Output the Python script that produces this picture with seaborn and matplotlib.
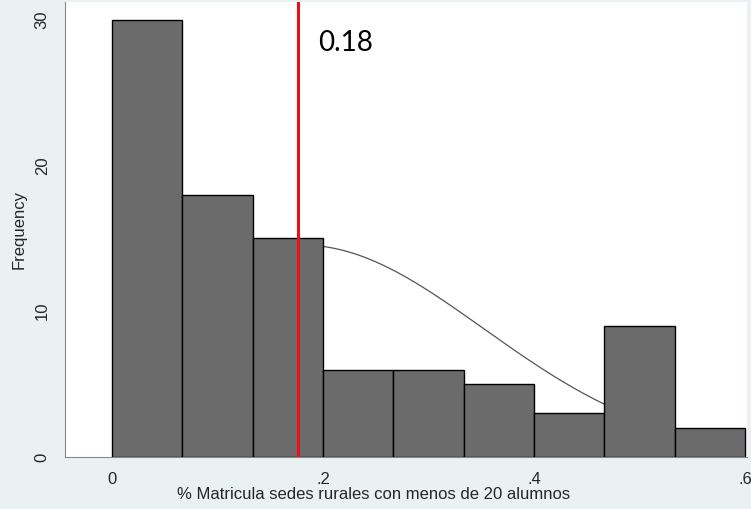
import numpy as np
import pandas as pd
import matplotlib
matplotlib.use("Agg")
import matplotlib.pyplot as plt
import seaborn as sns

# ── Data ──────────────────────────────────────────────────
bin_edges = [0.0, 0.0667, 0.1333, 0.2, 0.2667, 0.3333, 0.4, 0.4667, 0.5333, 0.6]
bin_counts = [30, 18, 15, 6, 6, 5, 3, 9, 2]
marker_value = 0.176
marker_label = "0.18"
normal_mean = 0.18
normal_sd = 0.172
x_ticks = [0, 0.2, 0.4, 0.6]
x_tick_labels = ["0", ".2", ".4", ".6"]
y_ticks = [0, 10, 20, 30]
x_label = "% Matricula sedes rurales con menos de 20 alumnos"
y_label = "Frequency"

centers = [(a + b) / 2 for a, b in zip(bin_edges[:-1], bin_edges[1:])]
df = pd.DataFrame({"x": centers, "count": bin_counts})

sns.set_style("white")
plt.rcParams["font.family"] = ["Liberation Sans", "DejaVu Sans"]

fig = plt.figure(figsize=(7.51, 5.09), dpi=100, facecolor="#e9f1f2")
ax = fig.add_axes([0.0866, 0.102, 0.9081, 0.894])
ax.set_facecolor("white")

# normal curve scaled to frequency (drawn behind the bars)
n_total = sum(bin_counts)
width = bin_edges[1] - bin_edges[0]
xs = np.linspace(bin_edges[0] + 0.006, bin_edges[-1], 300)
ys = n_total * width / (normal_sd * np.sqrt(2 * np.pi)) * np.exp(-(xs - normal_mean) ** 2 / (2 * normal_sd ** 2))
sns.lineplot(x=xs, y=ys, ax=ax, color="#555555", linewidth=0.9, zorder=1)

sns.histplot(data=df, x="x", weights="count", bins=bin_edges, ax=ax,
             color="#6b6b6b", edgecolor="black", linewidth=1.0, alpha=1.0, zorder=2)

ax.axvline(marker_value, color="#e8101a", linewidth=2.2, zorder=3)
ax.text(marker_value + 0.019, 28.4, marker_label, fontsize=20,
        family=["Lato", "DejaVu Sans"], color="black", ha="left", va="center")

ax.set_xlim(-0.0445, 0.6019)
ax.set_ylim(0, 31.2)
ax.set_xticks(x_ticks)
ax.set_xticklabels(x_tick_labels)
ax.set_yticks(y_ticks)
ax.set_yticklabels([str(v) for v in y_ticks], rotation=90, va="center")
ax.tick_params(axis="both", direction="out", length=6, width=0.8, color="#888888",
               labelsize=12, pad=5)
ax.set_xlabel(x_label, fontsize=12, labelpad=0)
ax.xaxis.set_label_coords(0.452, -0.066)
ax.set_ylabel(y_label, fontsize=12, labelpad=6)

for side in ["top", "right"]:
    ax.spines[side].set_visible(False)
for side in ["left", "bottom"]:
    ax.spines[side].set_color("#888888")
    ax.spines[side].set_linewidth(0.8)

fig.savefig("out.png", dpi=100, facecolor=fig.get_facecolor())
